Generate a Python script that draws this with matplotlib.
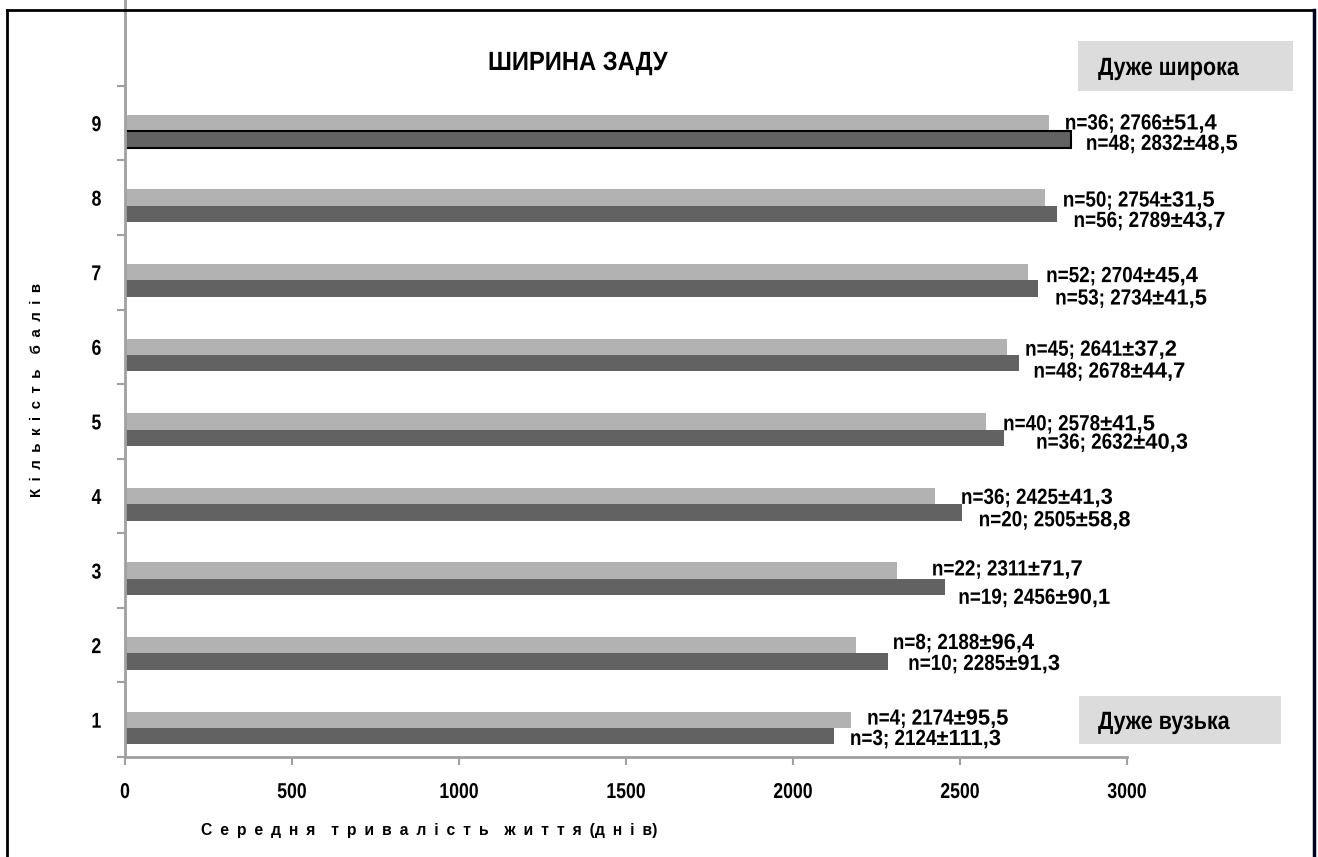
import numpy as np
import matplotlib
matplotlib.use("Agg")
import matplotlib.pyplot as plt
from matplotlib.patches import Rectangle
from matplotlib.lines import Line2D
from matplotlib.path import Path
from matplotlib.text import Text
from matplotlib.textpath import TextPath
from matplotlib.font_manager import FontProperties
from matplotlib.patheffects import AbstractPathEffect
from matplotlib.transforms import Affine2D, Bbox, offset_copy

# ---------------- data ----------------
scores = [1, 2, 3, 4, 5, 6, 7, 8, 9]
light_vals = [2174, 2188, 2311, 2425, 2578, 2641, 2704, 2754, 2766]
dark_vals = [2124, 2285, 2456, 2505, 2632, 2678, 2734, 2789, 2832]
light_n = [4, 8, 22, 36, 40, 45, 52, 50, 36]
dark_n = [3, 10, 19, 20, 36, 48, 53, 56, 48]
light_err = ["95,5", "96,4", "71,7", "41,3", "41,5", "37,2", "45,4", "31,5", "51,4"]
dark_err = ["111,3", "91,3", "90,1", "58,8", "40,3", "44,7", "41,5", "43,7", "48,5"]
x_ticks = [0, 500, 1000, 1500, 2000, 2500, 3000]
title = "ШИРИНА ЗАДУ"
x_label = "Середня тривалість життя(днів)"
y_label = "Кількість балів"
top_note = "Дуже широка"
bottom_note = "Дуже вузька"

# label placement offsets (pixels) relative to bar ends / bar centres (down = +)
light_dx = [16, 37, 35, 26, 17, 18, 18, 18, 16]
light_dy = [-3, -4, -3, 0, 1, 1, 2, 1, -1.5]
dark_dx = [15.5, 20, 13, 17, 32, 14, 17, 17, 15]
dark_dy = [1, 0.5, 9, 6, 3, 6.5, 8, 5, 2.5]

SANS = ["Liberation Sans", "DejaVu Sans"]
LIGHT = "#b2b2b2"
DARK = "#626262"
AXC = "#a0a0a0"


class Squeeze(AbstractPathEffect):
    """Draw text narrower (condensed) around a chosen anchor."""
    def __init__(self, sx, anchor="left"):
        super().__init__()
        self.sx = sx
        self.anchor = anchor

    def draw_path(self, renderer, gc, tpath, affine, rgbFace=None):
        ext = tpath.get_extents()
        if self.anchor == "left":
            x0 = 0.0
        elif self.anchor == "center":
            x0 = 0.5 * (ext.x0 + ext.x1)
        else:
            x0 = ext.x1
        t = Affine2D().translate(-x0, 0).scale(self.sx, 1).translate(x0, 0) + affine
        renderer.draw_path(gc, tpath, t, rgbFace)


class PartSqueeze(AbstractPathEffect):
    """Condense only the glyphs left of a boundary (in text-path units)."""
    def __init__(self, b, sx):
        super().__init__()
        self.b = b
        self.sx = sx

    def draw_path(self, renderer, gc, tpath, affine, rgbFace=None):
        v = np.array(tpath.vertices, dtype=float)
        left = v[:, 0] <= self.b
        v[left, 0] *= self.sx
        v[~left, 0] -= self.b * (1 - self.sx)
        renderer.draw_path(gc, Path(v, tpath.codes), affine, rgbFace)


class NarrowText(Text):
    """Text drawn condensed, reporting its condensed extent."""
    def __init__(self, *args, sx=0.85, **kwargs):
        super().__init__(*args, **kwargs)
        self._sx = sx
        self.set_path_effects([Squeeze(sx, "left")])

    def get_window_extent(self, renderer=None, dpi=None):
        bb = super().get_window_extent(renderer, dpi)
        return Bbox.from_bounds(bb.x0, bb.y0, bb.width * self._sx, bb.height)


W, H = 1318, 857
fig = plt.figure(figsize=(W / 100, H / 100), dpi=100)
ax = fig.add_axes([125 / W, (H - 757) / H, (1127 - 125) / W, 757 / H])

bh = 0.22
ax.barh(scores, light_vals, height=bh, color=LIGHT, zorder=2)
dbars = ax.barh([s - bh for s in scores], dark_vals, height=bh, color=DARK, zorder=2)
dbars[-1].set_edgecolor("black")
dbars[-1].set_linewidth(1.5)

ax.set_xlim(0, 3000)
ax.set_ylim(0.5, 10.65)

for s in ("top", "right"):
    ax.spines[s].set_visible(False)
for s in ("left", "bottom"):
    ax.spines[s].set_color(AXC)
    ax.spines[s].set_linewidth(2)

ax.set_xticks(x_ticks)
ax.set_xticklabels([str(v) for v in x_ticks], fontfamily=SANS, fontweight="bold",
                   fontsize=15.5, path_effects=[Squeeze(0.82, "center")])
ax.tick_params(axis="x", direction="out", length=6, width=1.5, color=AXC, pad=12)

ax.set_yticks([s - 0.5 for s in scores] + [scores[-1] + 0.5])
ax.set_yticklabels([])
ax.tick_params(axis="y", which="major", direction="out", length=6, width=1.5, color=AXC)
ax.set_yticks(scores, minor=True)
ax.set_yticklabels([str(s) for s in scores], minor=True, fontfamily=SANS,
                   fontweight="bold", fontsize=15.5, path_effects=[Squeeze(0.82, "right")])
ax.tick_params(axis="y", which="minor", length=0, pad=17)

# ---- value labels: one text each, "n=..; value" part condensed ----
fs_lab = 15.8
sq_lab = 0.86
BASE = 7.9  # px from digit centre down to baseline
lab_prop = FontProperties(family=SANS, weight="bold")

for i, s in enumerate(scores):
    for val, y, n, err, dx, dy in ((light_vals[i], s, light_n[i], light_err[i], light_dx[i], light_dy[i]),
                                   (dark_vals[i], s - bh, dark_n[i], dark_err[i], dark_dx[i], dark_dy[i])):
        head = f"n={n}; {val}"
        b = TextPath((0, 0), head, size=100, prop=lab_prop).get_extents().x1 + 1
        tr = offset_copy(ax.transData, fig=fig, x=dx / 100, y=-(dy + BASE) / 100, units="inches")
        ax.text(val, y, f"{head}±{err}", transform=tr, ha="left", va="baseline",
                fontfamily=SANS, fontweight="bold", fontsize=fs_lab, zorder=3, clip_on=False,
                path_effects=[PartSqueeze(b, sq_lab)])

# title and note texts (condensed)
fig.add_artist(NarrowText(488 / W, 1 - 63 / H, title, sx=0.9, transform=fig.transFigure,
                          ha="left", va="center", fontfamily=SANS, fontweight="bold", fontsize=19))

fig.add_artist(Rectangle((1078 / W, 1 - 91 / H), (1293 - 1078) / W, 50 / H,
                         transform=fig.transFigure, facecolor="#dcdcdc", edgecolor="none"))
fig.add_artist(NarrowText(1098 / W, 1 - 68 / H, top_note, sx=0.86, transform=fig.transFigure,
                          ha="left", va="center", fontfamily=SANS, fontweight="bold", fontsize=18))
fig.add_artist(Rectangle((1079 / W, 1 - 744 / H), (1281 - 1079) / W, 48 / H,
                         transform=fig.transFigure, facecolor="#dcdcdc", edgecolor="none"))
fig.add_artist(NarrowText(1098 / W, 1 - 722 / H, bottom_note, sx=0.86, transform=fig.transFigure,
                          ha="left", va="center", fontfamily=SANS, fontweight="bold", fontsize=18))


# axis labels with letter spacing
def spaced(text):
    sp = "\u2002"
    words = []
    for word in text.split(" "):
        out = ""
        for j, ch in enumerate(word):
            out += ch
            if j < len(word) - 1 and ch != "(" and word[j + 1] != ")":
                out += sp
        words.append(out)
    return (sp * 2).join(words)


fig.text(37 / W, 1 - 390 / H, spaced(y_label), rotation=90, ha="center", va="center",
         fontfamily=SANS, fontweight="bold", fontsize=10.8)
fig.text(201 / W, 1 - 830 / H, spaced(x_label), ha="left", va="center",
         fontfamily=SANS, fontweight="bold", fontsize=11.3)

# outer frame
fig.add_artist(Line2D([7 / W, 7 / W], [0, 1 - 10 / H], transform=fig.transFigure, color="black", lw=2))
fig.add_artist(Line2D([7 / W, 1314 / W], [1 - 10 / H, 1 - 10 / H], transform=fig.transFigure, color="black", lw=2))
fig.add_artist(Line2D([1314 / W, 1314 / W], [0, 1 - 10 / H], transform=fig.transFigure, color="#000020", lw=2.5))

fig.savefig("out.png", dpi=100)
